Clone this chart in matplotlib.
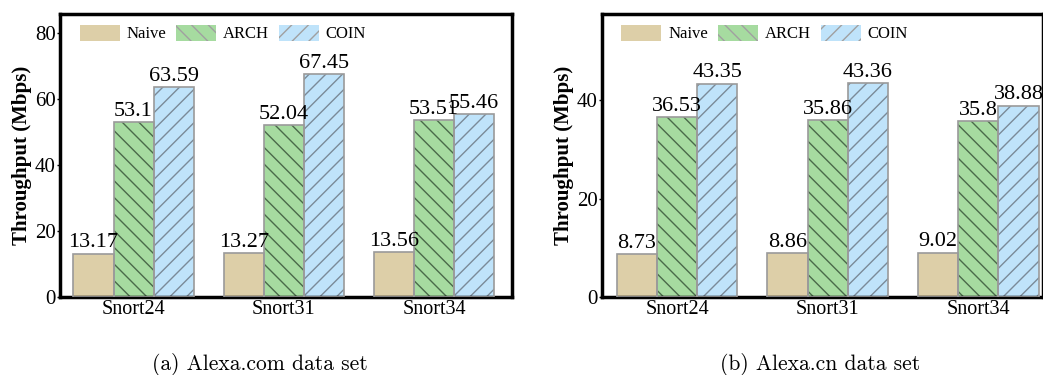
import matplotlib
matplotlib.use("Agg")
import matplotlib.pyplot as plt
import numpy as np

plt.rcParams['font.family'] = ['Liberation Serif', 'DejaVu Serif']
plt.rcParams['hatch.linewidth'] = 1.0

# --- Dados ---
grupos = ['Snort24', 'Snort31', 'Snort34']
metodos = ['Naive', 'ARCH', 'COIN']
alexa_com = {
    'Naive': [13.17, 13.27, 13.56],
    'ARCH': [53.1, 52.04, 53.51],
    'COIN': [63.59, 67.45, 55.46],
}
alexa_cn = {
    'Naive': [8.73, 8.86, 9.02],
    'ARCH': [36.53, 35.86, 35.8],
    'COIN': [43.35, 43.36, 38.88],
}
rotulos_com = {
    'Naive': ['13.17', '13.27', '13.56'],
    'ARCH': ['53.1', '52.04', '53.51'],
    'COIN': ['63.59', '67.45', '55.46'],
}
rotulos_cn = {
    'Naive': ['8.73', '8.86', '9.02'],
    'ARCH': ['36.53', '35.86', '35.8'],
    'COIN': ['43.35', '43.36', '38.88'],
}
yticks_com = [0, 20, 40, 60, 80]
yticks_cn = [0, 20, 40]

CORES = {'Naive': '#ddcfa8', 'ARCH': '#a6dba0', 'COIN': '#bfe3fa'}
HATCH = {'Naive': '', 'ARCH': '\\\\', 'COIN': '//'}
HATCH_COR = {'Naive': '#b0b0b0', 'ARCH': '#4a6a4a', 'COIN': '#7a8a98'}
LARG = 0.267


def desenhar(ax, dados, rotulos, yticks, ylim, xlim):
    x = np.arange(len(grupos))
    for i, m in enumerate(metodos):
        pos = x + (i - 1) * LARG
        ax.bar(pos, dados[m], LARG, color=CORES[m], edgecolor=HATCH_COR[m],
               hatch=HATCH[m], linewidth=0.0, label=m, zorder=2)
        # contorno cinza
        ax.bar(pos, dados[m], LARG, color='none', edgecolor='#9a9a9a',
               linewidth=1.2, zorder=3)
        for p, v, r in zip(pos, dados[m], rotulos[m]):
            ax.text(p, v + ylim * 0.004, r, ha='center', va='bottom', fontsize=16, zorder=4)
    ax.set_xticks(x)
    ax.set_xticklabels(grupos, fontsize=14.5)
    ax.set_yticks(yticks)
    ax.tick_params(axis='y', labelsize=15, length=2, width=1, pad=1)
    ax.tick_params(axis='x', length=0, pad=2)
    ax.set_ylim(0, ylim)
    ax.set_xlim(*xlim)
    for s in ax.spines.values():
        s.set_linewidth(2.5)
    ax.set_ylabel('Throughput (Mbps)', fontsize=15, fontweight='bold', labelpad=2)
    leg = ax.legend(loc='upper left', bbox_to_anchor=(0.02, 1.0), ncol=3, frameon=False,
                    fontsize=12, handlelength=2.4, handleheight=1.1,
                    columnspacing=0.6, handletextpad=0.4, borderaxespad=0.25)
    for h in leg.legend_handles:
        h.set_edgecolor('#a0a0a0')


fig = plt.figure(figsize=(10.43, 3.75), dpi=100)
ax1 = fig.add_axes([0.0575, 0.208, 0.4335, 0.755])
ax2 = fig.add_axes([0.577, 0.208, 0.423, 0.755])

desenhar(ax1, alexa_com, rotulos_com, yticks_com, 85.8, (-0.49, 2.52))
desenhar(ax2, alexa_cn, rotulos_cn, yticks_cn, 57.5, (-0.5, 2.43))

fig.text(0.249, 0.012, '(a) Alexa.com data set', ha='center', fontsize=15.5, family=['cmr10', 'DejaVu Serif'])
fig.text(0.786, 0.012, '(b) Alexa.cn data set', ha='center', fontsize=15.5, family=['cmr10', 'DejaVu Serif'])

fig.savefig('out.png', dpi=100)
